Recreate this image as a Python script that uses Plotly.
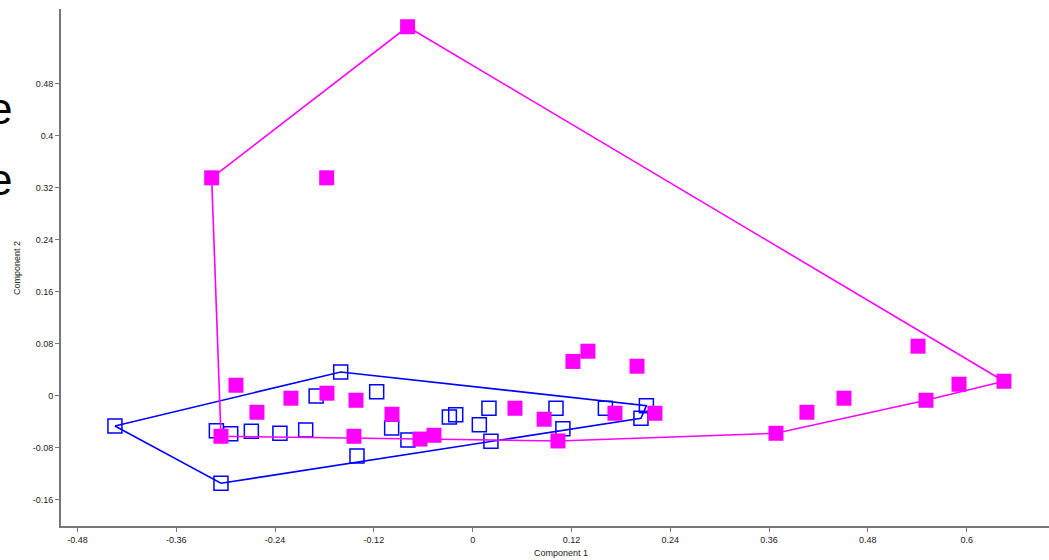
import plotly.graph_objects as go

# Group A (magenta filled squares)
mag_x = [-0.0790, -0.3170, -0.1773, 0.6453, 0.5409, 0.5907, 0.5506, 0.4510, 0.4060, 0.3684,
         0.1218, 0.1400, 0.1996, 0.1728, 0.2214, 0.1036, 0.0868, 0.0514, -0.0470, -0.0640,
         -0.0980, -0.1417, -0.1442, -0.1770, -0.2207, -0.2620, -0.2875, -0.3057]
mag_y = [0.5677, 0.3354, 0.3354, 0.0226, 0.0765, 0.0180, -0.0066, -0.0035, -0.0251, -0.0574,
         0.0531, 0.0688, 0.0457, -0.0266, -0.0266, -0.0692, -0.0358, -0.0189, -0.0605, -0.0663,
         -0.0282, -0.0066, -0.0620, 0.0042, -0.0035, -0.0251, 0.0165, -0.0620]

# Group B (blue open squares)
blue_x = [-0.4345, -0.3113, -0.2939, -0.2688, -0.2341, -0.2028, -0.3057, -0.1603, -0.1901, -0.1166,
          -0.1405, -0.0984, -0.0786, -0.0283, -0.0206, 0.0198, 0.0081, 0.0222, 0.1012, 0.1096,
          0.1612, 0.2110, 0.2044]
blue_y = [-0.0462, -0.0534, -0.0580, -0.0543, -0.0574, -0.0523, -0.1343, 0.0369, 0.0000, 0.0066,
          -0.0923, -0.0492, -0.0677, -0.0323, -0.0288, -0.0189, -0.0442, -0.0695, -0.0189, -0.0503,
          -0.0189, -0.0149, -0.0343]

x_ticks = [-0.48, -0.36, -0.24, -0.12, 0, 0.12, 0.24, 0.36, 0.48, 0.6]
x_tick_text = ["-0.48", "-0.36", "-0.24", "-0.12", "0", "0.12", "0.24", "0.36", "0.48", "0.6"]
y_ticks = [-0.16, -0.08, 0, 0.08, 0.16, 0.24, 0.32, 0.4, 0.48]
y_tick_text = ["-0.16", "-0.08", "0", "0.08", "0.16", "0.24", "0.32", "0.4", "0.48"]


def convex_hull(xs, ys):
    pts = sorted(set(zip(xs, ys)))
    if len(pts) <= 2:
        return pts

    def cross(o, a, b):
        return (a[0] - o[0]) * (b[1] - o[1]) - (a[1] - o[1]) * (b[0] - o[0])

    lower = []
    for p in pts:
        while len(lower) >= 2 and cross(lower[-2], lower[-1], p) <= 0:
            lower.pop()
        lower.append(p)
    upper = []
    for p in reversed(pts):
        while len(upper) >= 2 and cross(upper[-2], upper[-1], p) <= 0:
            upper.pop()
        upper.append(p)
    hull = lower[:-1] + upper[:-1]
    return hull + [hull[0]]


MAG = "#ff00ff"
BLUE = "#0000ff"
FONT = "Liberation Sans, Arial, sans-serif"

W, H = 1049, 560
L, R, T, B = 61, 0, 9, 34
PW, PH = W - L - R, H - T - B

fig = go.Figure()

bh = convex_hull(blue_x, blue_y)
fig.add_trace(go.Scatter(x=[p[0] for p in bh], y=[p[1] for p in bh], mode="lines",
                         line=dict(color=BLUE, width=1.6), hoverinfo="skip", showlegend=False))
fig.add_trace(go.Scatter(x=blue_x, y=blue_y, mode="markers",
                         marker=dict(symbol="square-open", size=14, color=BLUE,
                                     line=dict(color=BLUE, width=1.5)),
                         showlegend=False))

mh = convex_hull(mag_x, mag_y)
fig.add_trace(go.Scatter(x=[p[0] for p in mh], y=[p[1] for p in mh], mode="lines",
                         line=dict(color=MAG, width=1.6), hoverinfo="skip", showlegend=False))
fig.add_trace(go.Scatter(x=mag_x, y=mag_y, mode="markers",
                         marker=dict(symbol="square", size=15, color=MAG, line=dict(width=0)),
                         showlegend=False))

axis_common = dict(showgrid=False, zeroline=False, showline=True, linecolor="#777777",
                   linewidth=2, ticks="outside", ticklen=4, tickwidth=1, tickcolor="#777777",
                   tickfont=dict(family=FONT, size=9, color="#222222"))

fig.update_xaxes(range=[-0.5, 0.7], tickvals=x_ticks, ticktext=x_tick_text, **axis_common)
fig.update_yaxes(range=[-0.2, 0.595], tickvals=y_ticks, ticktext=y_tick_text, **axis_common)


def px_x(p):
    return (p - L) / PW


def px_y(p):
    return (H - B - p) / PH


annotations = [
    dict(text="Component 1", xref="paper", yref="paper", x=px_x(561), y=px_y(553),
         xanchor="center", yanchor="middle", showarrow=False,
         font=dict(family=FONT, size=9, color="#222222")),
    dict(text="Component 2", xref="paper", yref="paper", x=px_x(17), y=px_y(268),
         xanchor="center", yanchor="middle", textangle=-90, showarrow=False,
         font=dict(family=FONT, size=9, color="#222222")),
    dict(text="e", xref="paper", yref="paper", x=px_x(14), y=px_y(108),
         xanchor="right", yanchor="middle", showarrow=False,
         font=dict(family=FONT, size=44, color="#000000")),
    dict(text="e", xref="paper", yref="paper", x=px_x(14), y=px_y(179),
         xanchor="right", yanchor="middle", showarrow=False,
         font=dict(family=FONT, size=44, color="#000000")),
]

fig.update_layout(
    width=W, height=H,
    margin=dict(l=L, r=R, t=T, b=B, pad=0),
    plot_bgcolor="white", paper_bgcolor="white",
    showlegend=False,
    annotations=annotations,
    font=dict(family=FONT),
)

fig.write_html("out.html",
               config={"displayModeBar": False},
               post_script="document.body.style.margin='0';document.body.style.overflow='hidden';")
